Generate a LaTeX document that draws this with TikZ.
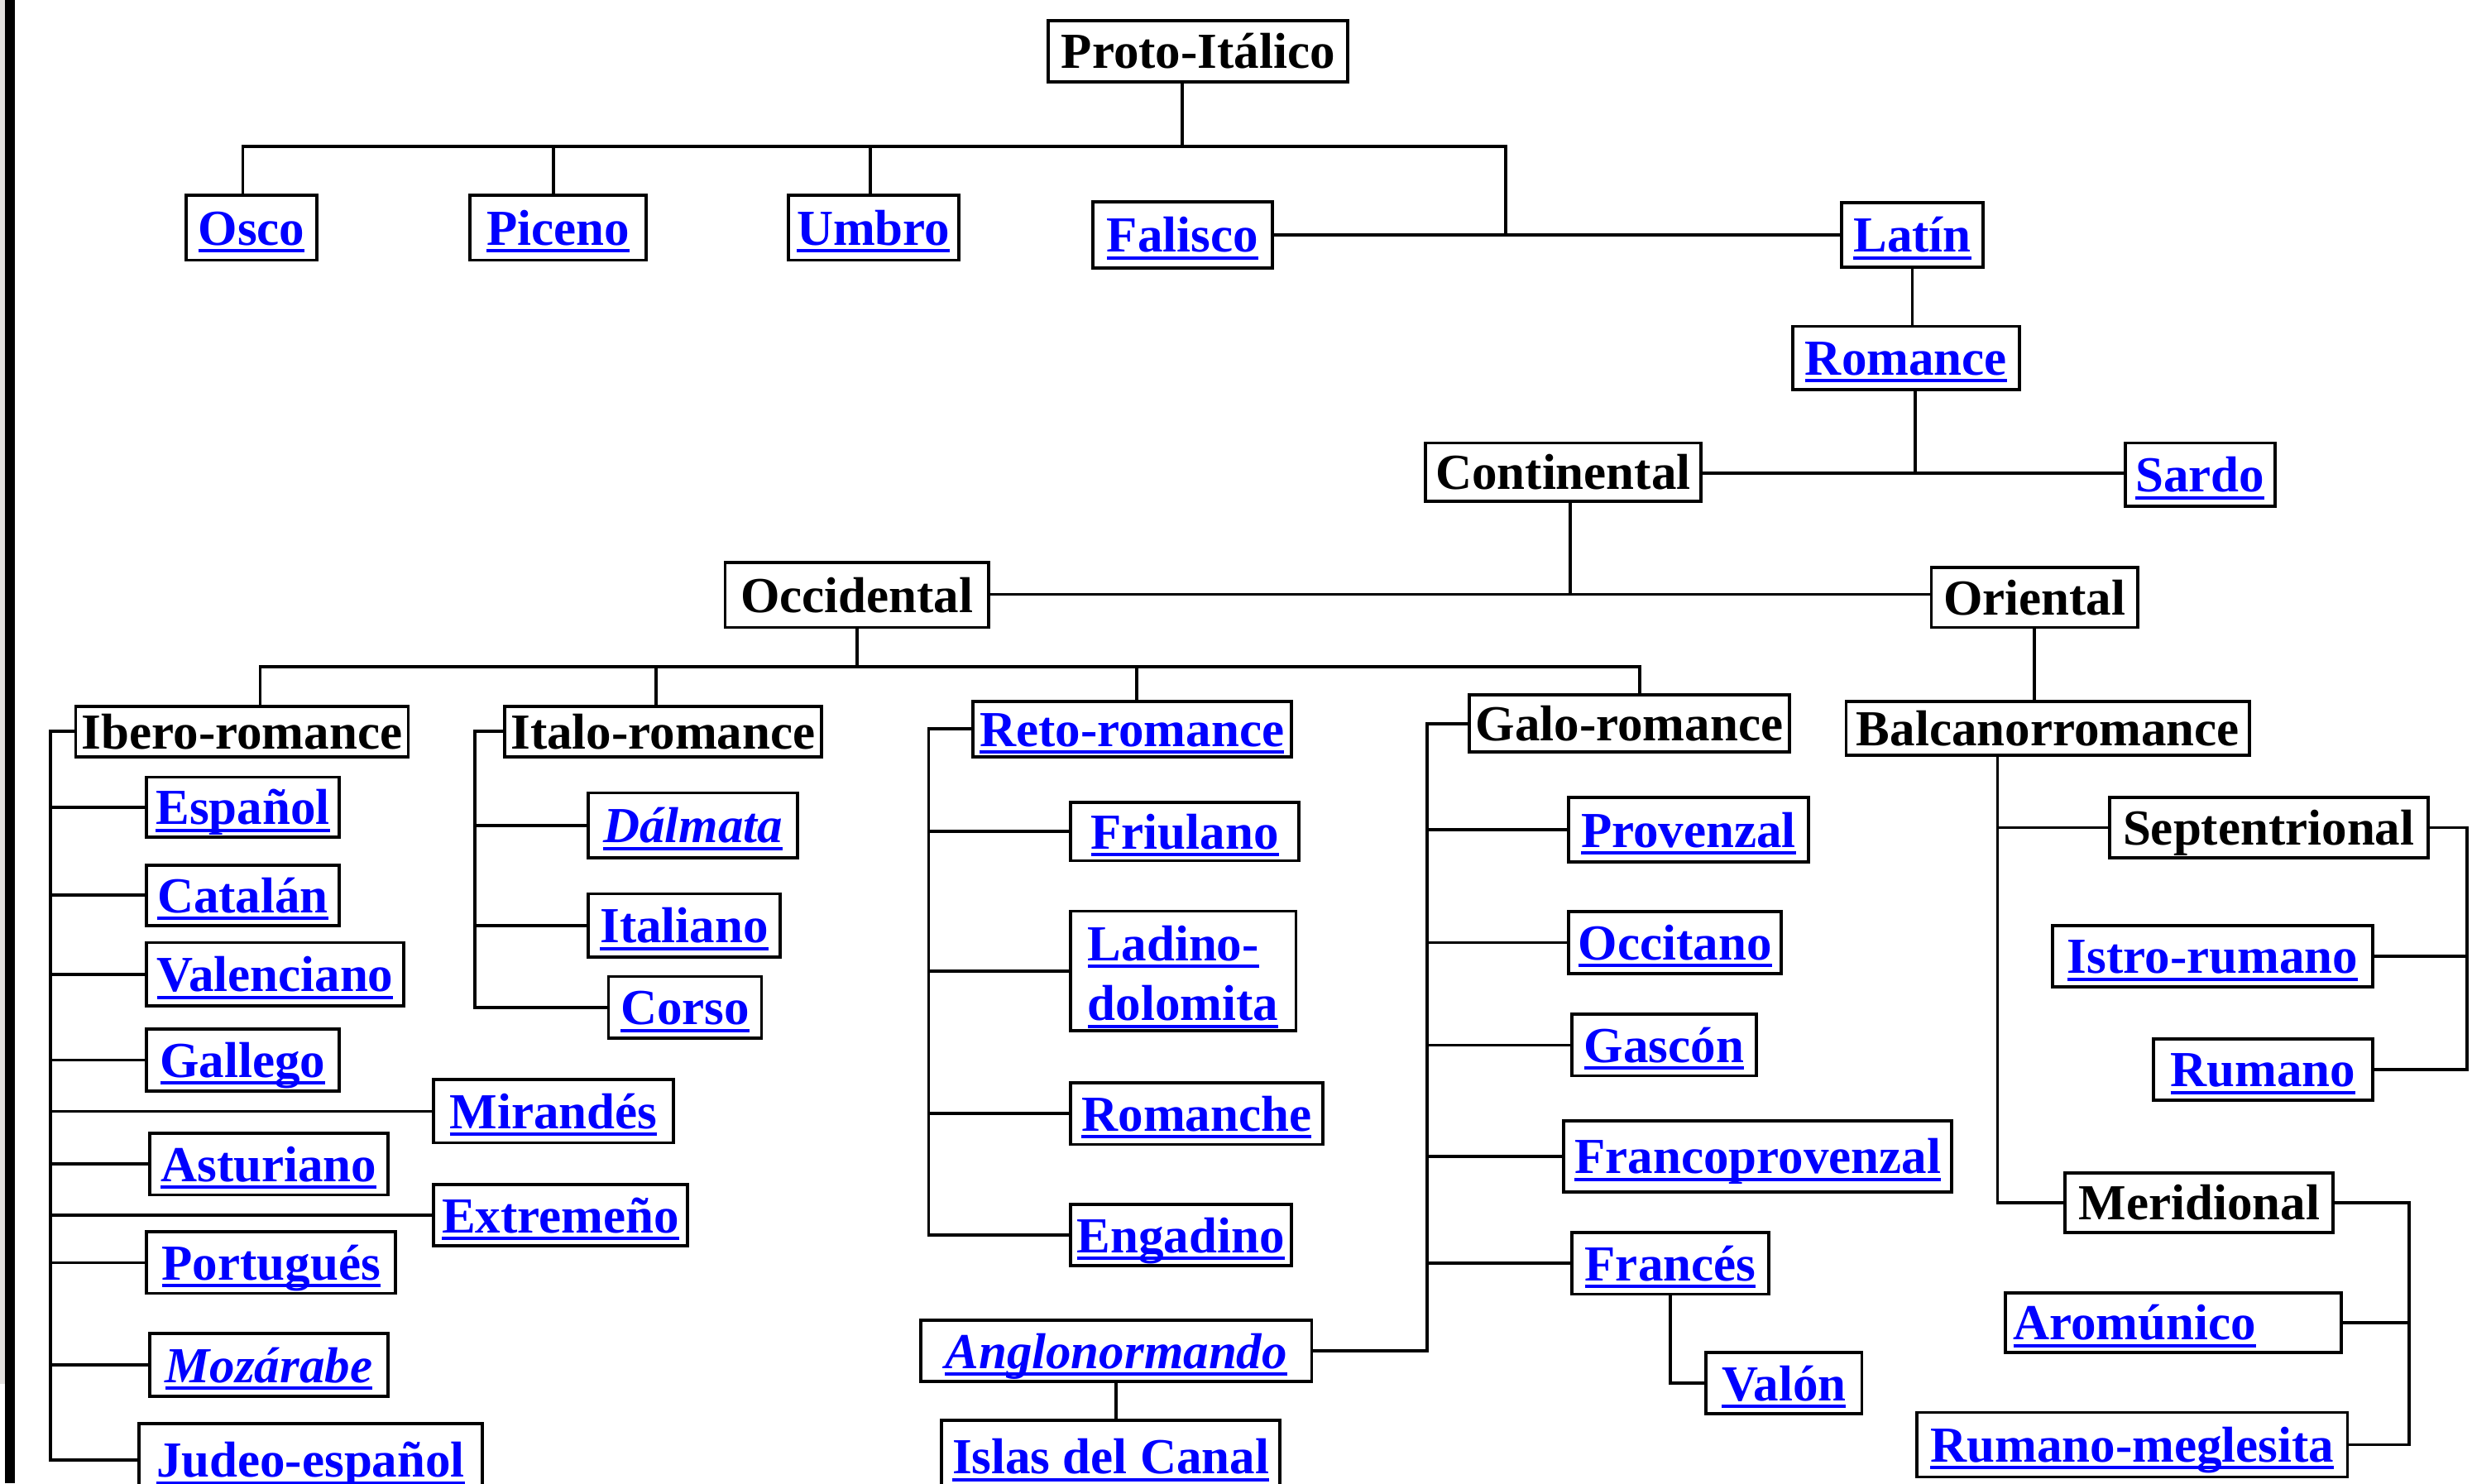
\documentclass[tikz,border=0pt]{standalone}
\usepackage{fontspec}
\setmainfont{Liberation Serif}
\definecolor{linkblue}{RGB}{0,0,255}
\definecolor{edgegray}{RGB}{228,225,223}
\newsavebox\lnkbox
\newcommand\lnk[1]{\leavevmode\sbox\lnkbox{#1}\rlap{\usebox\lnkbox}\raisebox{-4.7pt}{\rule{\wd\lnkbox}{2.1pt}}}

\begin{document}
\begin{tikzpicture}[
    x=1pt, y=-1pt,
    box/.style={rectangle, draw=black, line width=2pt, fill=white, inner sep=0pt,
        font=\fontsize{32}{38}\selectfont\bfseries, text height=26pt, text depth=4pt},
    grp/.style={box, text=black},
    lang/.style={box, text=linkblue},
    wire/.style={line width=2pt, line cap=rect}
]
\useasboundingbox (0,0) rectangle (1568,941);
\fill[white] (0,0) rectangle (1568,941);

% Left window edge
\fill[edgegray] (0,0) rectangle (3,878);
\fill[black] (3,0) rectangle (9.5,941);

% Top levels
\node[grp, minimum width=190, minimum height=39] (proto) at (760,32.5) {Proto-Itálico};
\node[lang, minimum width=83, minimum height=41] (osco) at (159.5,144.5) {\lnk{Osco}};
\node[lang, minimum width=112, minimum height=41] (piceno) at (354,144.5) {\lnk{Piceno}};
\node[lang, minimum width=108, minimum height=41] (umbro) at (554,144.5) {\lnk{Umbro}};
\node[lang, minimum width=114, minimum height=42] (falisco) at (750,149) {\lnk{Falisco}};
\node[lang, minimum width=90, minimum height=41] (latin) at (1213,149) {\lnk{Latín}};
\node[lang, minimum width=144, minimum height=40] (romance) at (1209,227) {\lnk{Romance}};
\node[grp, minimum width=175, minimum height=37] (cont) at (991.5,299.5) {Continental};
\node[lang, minimum width=95, minimum height=40] (sardo) at (1395.5,301) {\lnk{Sardo}};
\node[grp, minimum width=167, minimum height=41] (occ) at (543.5,377.5) {Occidental};
\node[grp, minimum width=131, minimum height=38] (ori) at (1290.5,379) {Oriental};

% Groups
\node[grp, minimum width=211, minimum height=32] (ibero) at (153.5,464) {Ibero-romance};
\node[grp, minimum width=201, minimum height=32] (italo) at (420.5,464) {Italo-romance};
\node[lang, minimum width=202, minimum height=35] (reto) at (718,462.5) {\lnk{Reto-romance}};
\node[grp, minimum width=203, minimum height=36] (galo) at (1033.5,459) {Galo-romance};
\node[grp, minimum width=256, minimum height=34] (balc) at (1299,462) {Balcanorromance};

% Ibero-romance
\node[lang, minimum width=122, minimum height=38] (espanol) at (154,512) {\lnk{Español}};
\node[lang, minimum width=122, minimum height=38] (catalan) at (154,568) {\lnk{Catalán}};
\node[lang, minimum width=163, minimum height=40] (valenciano) at (174.5,618) {\lnk{Valenciano}};
\node[lang, minimum width=122, minimum height=39] (gallego) at (154,672.5) {\lnk{Gallego}};
\node[lang, minimum width=152, minimum height=40] (mirandes) at (351,705) {\lnk{Mirandés}};
\node[lang, minimum width=151, minimum height=39] (asturiano) at (170.5,738.5) {\lnk{Asturiano}};
\node[lang, minimum width=161, minimum height=39] (extremeno) at (355.5,771) {\lnk{Extremeño}};
\node[lang, minimum width=158, minimum height=39] (portugues) at (172,801) {\lnk{Portugués}};
\node[lang, minimum width=151, minimum height=40] (mozarabe) at (170.5,866) {\lnk{\itshape Mozárabe}};
\node[lang, minimum width=218, minimum height=46] (judeo) at (197,926) {\lnk{Judeo-español}};

% Italo-romance
\node[lang, minimum width=133, minimum height=41] (dalmata) at (439.5,523.5) {\lnk{\itshape Dálmata}};
\node[lang, minimum width=122, minimum height=40] (italiano) at (434,587) {\lnk{Italiano}};
\node[lang, minimum width=97, minimum height=39] (corso) at (434.5,639) {\lnk{Corso}};

% Reto-romance
\node[lang, minimum width=145, minimum height=37] (friulano) at (751.5,527.5) {\lnk{Friulano}};
\node[lang, minimum width=143, minimum height=76] (ladino) at (750.5,616)
    {\begin{tabular}{@{}l@{}}\lnk{Ladino-}\\\lnk{dolomita}\end{tabular}};
\node[lang, minimum width=160, minimum height=39] (romanche) at (759,706.5) {\lnk{Romanche}};
\node[lang, minimum width=140, minimum height=39] (engadino) at (749,783.5) {\lnk{Engadino}};

% Galo-romance
\node[lang, minimum width=152, minimum height=41] (provenzal) at (1071,526.5) {\lnk{Provenzal}};
\node[lang, minimum width=135, minimum height=39] (occitano) at (1062.5,598) {\lnk{Occitano}};
\node[lang, minimum width=117, minimum height=39] (gascon) at (1055.5,663) {\lnk{Gascón}};
\node[lang, minimum width=246, minimum height=45] (francoprov) at (1115,733.5) {\lnk{Francoprovenzal}};
\node[lang, minimum width=125, minimum height=39] (frances) at (1059.5,801.5) {\lnk{Francés}};
\node[lang, minimum width=99, minimum height=39] (valon) at (1131.5,877.5) {\lnk{Valón}};
\node[lang, minimum width=248, minimum height=39] (anglo) at (708,857) {\lnk{\itshape Anglonormando}};
\node[lang, minimum width=215, minimum height=46] (islas) at (704.5,924) {\lnk{Islas del Canal}};

% Balcanorromance
\node[grp, minimum width=202, minimum height=38] (sept) at (1439,525) {Septentrional};
\node[lang, minimum width=203, minimum height=39] (istro) at (1403.5,606.5) {\lnk{Istro-rumano}};
\node[lang, minimum width=139, minimum height=39] (rumano) at (1435.5,678.5) {\lnk{Rumano}};
\node[grp, minimum width=170, minimum height=38] (merid) at (1395,763) {Meridional};
\node[lang, minimum width=213, minimum height=38, text width=203, align=left] (aromunico) at (1378.5,839) {\lnk{Aromúnico}};
\node[lang, minimum width=273, minimum height=41] (meglesita) at (1352.5,916.5) {\lnk{Rumano-meglesita}};

% Proto-Italico branches
\coordinate (pBus) at (955,93);
\coordinate (jLat) at (955,149);
\foreach \n/\x in {osco/154, piceno/351, umbro/552} {
    \coordinate (d\n) at (\x,93);
    \draw[wire] (d\n) -- (d\n |- \n.north);
}
\coordinate (dproto) at (750,93);
\draw[wire] (dproto) -- (dproto |- proto.south);
\draw[wire] (dosco) -- (pBus) -- (jLat);
\draw[wire] (falisco) -- (latin);
\draw[wire] (latin.south) -- (latin.south |- romance.north);

% Romance, Continental
\coordinate (jRom) at (1215,300);
\draw[wire] (jRom |- romance.south) -- (jRom);
\draw[wire] (cont.east |- jRom) -- (sardo.west |- jRom);
\coordinate (jCont) at (996,377);
\draw[wire] (jCont |- cont.south) -- (jCont);
\draw[wire] (occ.east |- jCont) -- (ori.west |- jCont);
\draw[wire] (ori.south) -- (ori.south |- balc.north);

% Occidental bus
\foreach \n/\x in {ibero/165, italo/416, reto/721, galo/1040} {
    \coordinate (d\n) at (\x,423);
    \draw[wire] (d\n) -- (d\n |- \n.north);
}
\draw[wire] (dibero) -- (dgalo);
\draw[wire] (occ.south) -- (occ.south |- dibero);

% Ibero-romance trunk
\coordinate (tIbero) at (32,464);
\draw[wire] (ibero.west) -- (tIbero) |- (judeo.west);
\foreach \n in {espanol, catalan, valenciano, gallego, mirandes, asturiano, extremeno, portugues, mozarabe}
    \draw[wire] (\n.west) -- (\n.west -| tIbero);

% Italo-romance trunk
\coordinate (tItalo) at (301,464);
\draw[wire] (italo.west) -- (tItalo) |- (corso.west);
\foreach \n in {dalmata, italiano}
    \draw[wire] (\n.west) -- (\n.west -| tItalo);

% Reto-romance trunk
\coordinate (tReto) at (589,462.5);
\draw[wire] (reto.west) -- (tReto) |- (engadino.west);
\foreach \n in {friulano, ladino, romanche}
    \draw[wire] (\n.west) -- (\n.west -| tReto);

% Galo-romance trunk
\coordinate (tGalo) at (905,459);
\draw[wire] (galo.west) -- (tGalo) |- (anglo.east);
\foreach \n in {provenzal, occitano, gascon, francoprov, frances}
    \draw[wire] (\n.west) -- (\n.west -| tGalo);
\draw[wire] (frances.south) |- (valon.west);
\draw[wire] (anglo.south) -- (anglo.south |- islas.north);

% Balcanorromance trunk
\coordinate (tBalc) at (1267,479);
\draw[wire] (tBalc |- balc.south) |- (merid.west);
\draw[wire] (sept.west) -- (sept.west -| tBalc);
\coordinate (tSept) at (1565,525);
\draw[wire] (sept.east) -- (tSept) |- (rumano.east);
\draw[wire] (istro.east) -- (istro.east -| tSept);
\coordinate (tMerid) at (1528,763);
\draw[wire] (merid.east) -- (tMerid) |- (meglesita.east);
\draw[wire] (aromunico.east) -- (aromunico.east -| tMerid);

\end{tikzpicture}
\end{document}
